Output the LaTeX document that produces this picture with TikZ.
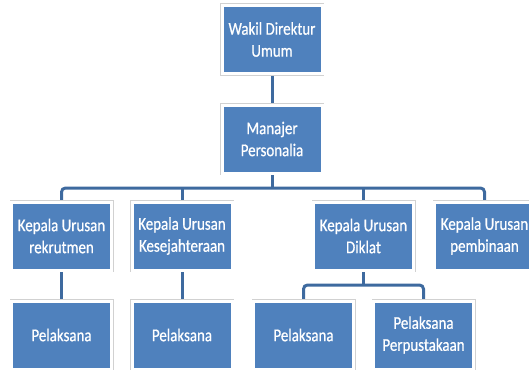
\documentclass[tikz,border=0pt]{standalone}
\usepackage{fontspec}
\setmainfont{Carlito}[FakeStretch=0.83, FakeBold=0.6]
\usetikzlibrary{backgrounds}
\definecolor{boxblue}{HTML}{4F81BD}
\definecolor{lineblue}{HTML}{3E6A9F}
\tikzstyle{block} = [rectangle, fill=boxblue, draw=white, line width=3pt,
    preaction={draw=black!18, line width=4pt},
    text=white, align=center, inner sep=0pt,
    minimum width=100pt, minimum height=68pt,
    font=\fontsize{18}{22}\selectfont]
\tikzstyle{line} = [draw=lineblue, line width=3pt]
\begin{document}
\begin{tikzpicture}[x=1pt, y=-1pt]
    \useasboundingbox (0,0) rectangle (529,369);
    % top
    \node [block] (wakil) at (272,39.5) {Wakil Direktur\\Umum};
    \node [block] (manajer) at (272,139) {Manajer\\Personalia};
    % kepala urusan
    \node [block] (rekrut) at (61.5,236) {Kepala Urusan\\rekrutmen};
    \node [block] (sejahtera) at (182,236) {Kepala Urusan\\Kesejahteraan};
    \node [block] (diklat) at (363.5,236) {Kepala Urusan\\Diklat};
    \node [block] (bina) at (484.5,236) {Kepala Urusan\\pembinaan};
    % pelaksana
    \node [block] (pelrekrut) at (61.5,335) {Pelaksana};
    \node [block] (pelsejahtera) at (182,335) {Pelaksana};
    \node [block] (peldiklat) at (303.5,335) {Pelaksana};
    \node [block] (pustaka) at (423.5,335) {Pelaksana\\Perpustakaan};
    \coordinate (bar) at (272,188);
    \coordinate (dbar) at (363.5,285);
    \begin{scope}[on background layer]
    \path [line] (wakil) -- (manajer);
    \path [line] (manajer) -- (bar);
    \path [line, rounded corners=4pt] (rekrut.north) |- (bar) -| (bina.north);
    \path [line] (sejahtera.north) -- (sejahtera.north |- bar);
    \path [line] (diklat.north) -- (diklat.north |- bar);
    \path [line] (rekrut) -- (pelrekrut);
    \path [line] (sejahtera) -- (pelsejahtera);
    \path [line] (diklat) -- (dbar);
    \path [line, rounded corners=4pt] (peldiklat.north) |- (dbar) -| (pustaka.north);
    \end{scope}
\end{tikzpicture}
\end{document}
